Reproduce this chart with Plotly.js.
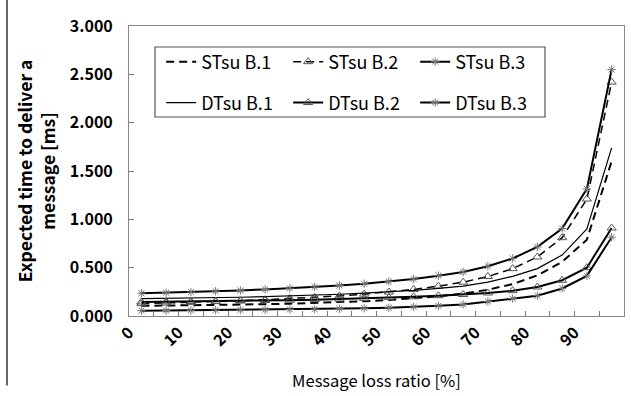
<!DOCTYPE html>
<html><head><meta charset="utf-8">
<script src="https://cdn.plot.ly/plotly-3.0.1.min.js"></script>
<style>html,body{margin:0;padding:0;background:#fff}</style>
</head><body><div id="chart" style="width:631px;height:396px"></div>
<script>
// Message loss ratio [%] (categories)
const lossRatio = [0,5,10,15,20,25,30,35,40,45,50,55,60,65,70,75,80,85,90,95];
const xTickVals = [0,10,20,30,40,50,60,70,80,90];
const xTickText = ['0','10','20','30','40','50','60','70','80','90'];
const yTickVals = [0,0.5,1,1.5,2,2.5,3];

// Expected time to deliver a message [ms]
const stsuB1 = [0.105,0.107,0.110,0.113,0.117,0.122,0.128,0.135,0.143,0.153,0.166,0.182,0.203,0.232,0.272,0.330,0.420,0.560,0.790,1.600];
const stsuB2 = [0.128,0.134,0.141,0.149,0.158,0.168,0.179,0.193,0.208,0.226,0.248,0.275,0.309,0.350,0.409,0.490,0.611,0.810,1.210,2.420];
const stsuB3 = [0.235,0.241,0.248,0.256,0.265,0.275,0.287,0.300,0.316,0.334,0.356,0.383,0.417,0.455,0.515,0.595,0.715,0.905,1.315,2.550];
const dtsuB1 = [0.180,0.182,0.185,0.189,0.194,0.200,0.207,0.215,0.225,0.237,0.250,0.265,0.285,0.310,0.350,0.410,0.490,0.630,0.900,1.740];
const dtsuB2 = [0.145,0.147,0.150,0.153,0.156,0.160,0.164,0.169,0.175,0.182,0.190,0.199,0.210,0.222,0.238,0.262,0.300,0.370,0.500,0.910];
const dtsuB3 = [0.055,0.057,0.059,0.061,0.063,0.065,0.068,0.071,0.075,0.080,0.086,0.094,0.105,0.120,0.150,0.180,0.210,0.285,0.415,0.815];

const halfStep = (lossRatio[1]-lossRatio[0])/2;
const boundaries = lossRatio.slice(1).map((v,i)=>(v+lossRatio[i])/2);
const labelPos = xTickVals.map(v=>v-halfStep);
const FONT = '"Noto Sans CJK JP", "Liberation Sans", sans-serif';

const traces = [
  {name:'STsu B.1', y:stsuB1, line:{color:'#000',width:2,dash:'8px,5px'}, mode:'lines', legend:'legend'},
  {name:'STsu B.2', y:stsuB2, line:{color:'#000',width:1.5,dash:'8px,5px'}, mode:'lines+markers',
    marker:{symbol:'triangle-up-open',size:8,color:'#555',line:{width:1}}, legend:'legend'},
  {name:'STsu B.3', y:stsuB3, line:{color:'#000',width:2}, mode:'lines+markers',
    marker:{symbol:'asterisk-open',size:7,color:'#777',line:{width:1,color:'#777'}}, legend:'legend'},
  {name:'DTsu B.1', y:dtsuB1, line:{color:'#000',width:1.2}, mode:'lines', legend:'legend2'},
  {name:'DTsu B.2', y:dtsuB2, line:{color:'#000',width:2}, mode:'lines+markers',
    marker:{symbol:'triangle-up-open',size:8,color:'#555',line:{width:1}}, legend:'legend2'},
  {name:'DTsu B.3', y:dtsuB3, line:{color:'#000',width:2}, mode:'lines+markers',
    marker:{symbol:'asterisk-open',size:7,color:'#777',line:{width:1,color:'#777'}}, legend:'legend2'}
].map(t=>Object.assign({type:'scatter', x:lossRatio}, t));

const legendCommon = {orientation:'h', xanchor:'left', yanchor:'middle', entrywidth:82,
  font:{family:FONT,size:18,color:'#000'}, bgcolor:'rgba(0,0,0,0)', borderwidth:0, itemwidth:30};

const layout = {
  width:631, height:396,
  margin:{l:129, r:7, t:26, b:80},
  paper_bgcolor:'#fff', plot_bgcolor:'#fff',
  font:{family:FONT, color:'#000'},
  showlegend:true,
  legend:Object.assign({x:0.065, y:0.876}, legendCommon),
  legend2:Object.assign({x:0.065, y:0.735}, legendCommon),
  xaxis:{
    range:[-2.5,97.5], showgrid:false, zeroline:false,
    showline:true, mirror:true, linecolor:'#888', linewidth:1,
    tickmode:'array', tickvals:labelPos, ticktext:xTickText, ticks:'',
    tickangle:-45, tickfont:{family:FONT,size:16,weight:'bold'},
    minor:{tickmode:'array', tickvals:boundaries, ticks:'inside', ticklen:5, tickcolor:'#777', tickwidth:1, showgrid:false},
    title:{text:'Message loss ratio [%]', font:{family:FONT,size:16.5}, standoff:25}
  },
  yaxis:{
    range:[0,3], showgrid:false, zeroline:false,
    showline:true, mirror:true, linecolor:'#888', linewidth:1,
    tickmode:'array', tickvals:yTickVals, tickformat:'.3f',
    ticks:'inside', ticklen:5, tickcolor:'#777',
    ticklabelstandoff:12,
    tickfont:{family:FONT,size:16,weight:'bold'},
    title:{text:'Expected time to deliver a<br>message [ms]', font:{family:FONT,size:17.5,weight:'bold'}, standoff:9}
  },
  shapes:[
    {type:'rect', xref:'paper', yref:'paper', x0:0.0525, x1:0.8404, y0:0.6862, y1:0.9276,
     line:{color:'#555',width:1.2}, fillcolor:'#fff', layer:'above'},
    {type:'line', xref:'paper', yref:'paper', x0:-0.2465, x1:-0.2465, y0:1.09, y1:-0.24,
     line:{color:'#333',width:1.5}}
  ]
};

Plotly.newPlot('chart', traces, layout, {displayModeBar:false, staticPlot:true});
</script>
</body></html>
